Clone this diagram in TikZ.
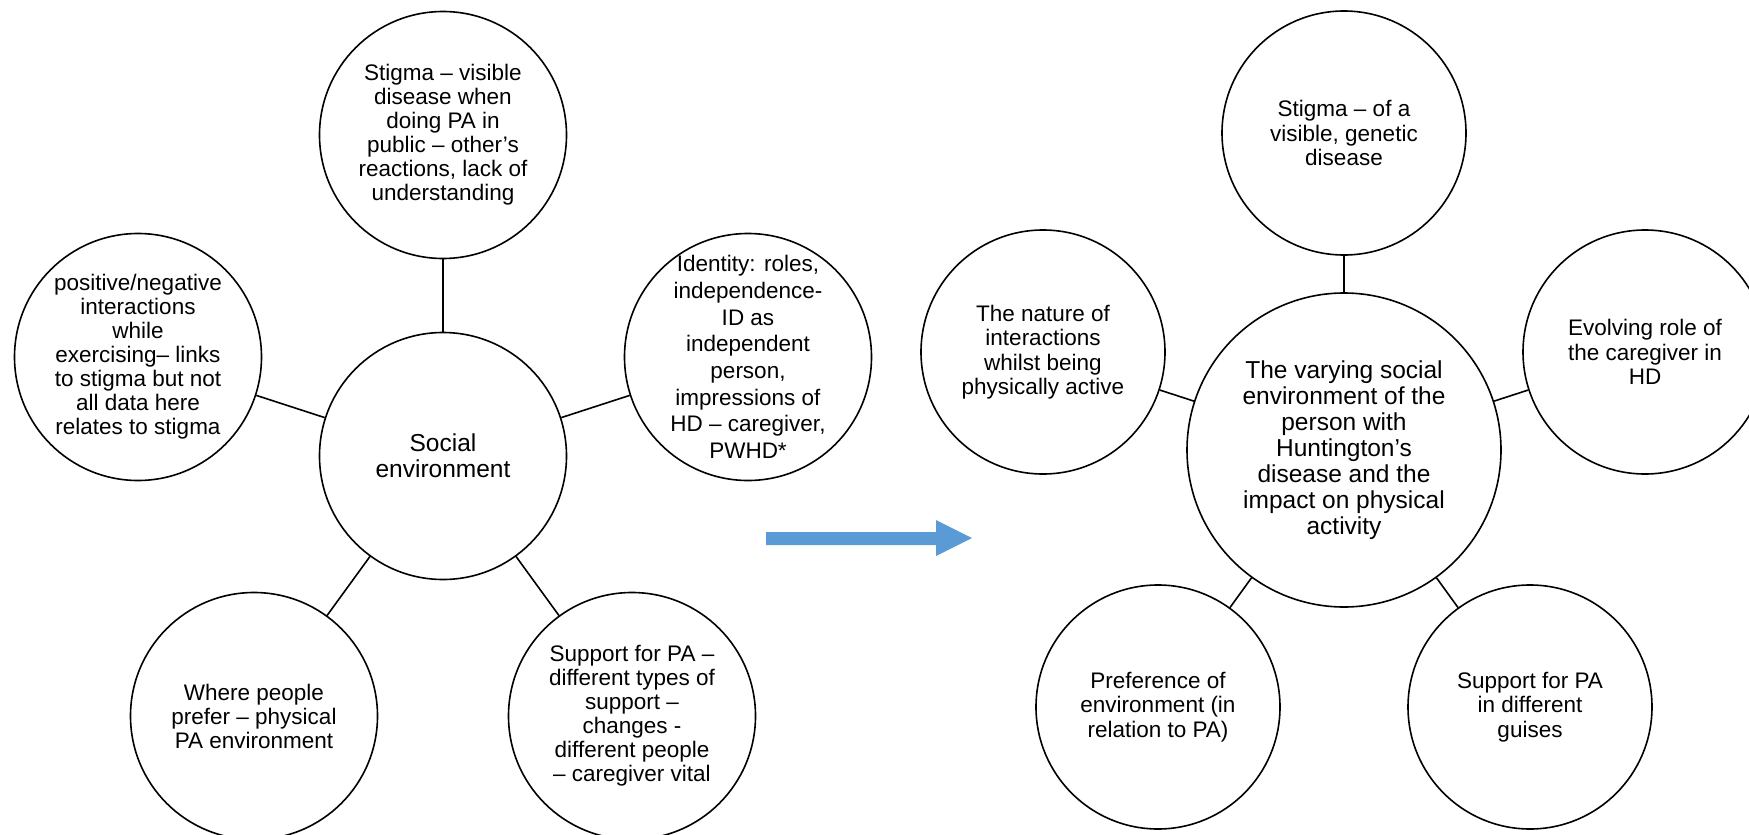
\documentclass[tikz,border=0pt]{standalone}
\usepackage{fontspec}
\setmainfont{Liberation Sans}
\definecolor{arrowblue}{HTML}{5B9BD5}
\begin{document}
\begin{tikzpicture}[x=1pt,y=-1pt,
  bubble/.style={circle, draw=black, line width=1.6pt, fill=white,
    inner sep=0pt, minimum size=247pt},
  bigbubble/.style={bubble, minimum size=314pt},
  rbubble/.style={bubble, minimum size=244pt},
  bubtext/.style={align=center, inner sep=0pt,
    font=\fontsize{22.5}{24}\selectfont},
  rtext/.style={bubtext, font=\fontsize{22.5}{24.5}\selectfont},
  widetext/.style={bubtext, font=\fontsize{22.5}{26.7}\selectfont},
  hubtext/.style={align=center, inner sep=0pt,
    font=\fontsize{24.5}{26}\selectfont},
  link/.style={draw=black, line width=1.6pt}]
\clip (0,0) rectangle (1749,835);
\fill[white] (0,0) rectangle (1749,835);

% ---- first map: social environment ----
\node[bubble, label={[hubtext]center:{Social\\environment}}] (lhub) at (443,456) {};
\node[bubble, label={[bubtext]center:{Stigma – visible\\disease when\\doing PA in\\public – other’s\\reactions, lack of\\understanding}}] (ltop) at (443,135) {};
\node[bubble, label={[bubtext]center:{positive/negative\\interactions\\while\\exercising– links\\to stigma but not\\all data here\\relates to stigma}}] (lleft) at (138,357) {};
\node[bubble, label={[widetext]center:{Identity: roles,\\independence-\\ID as\\independent\\person,\\impressions of\\HD – caregiver,\\PWHD*}}] (lright) at (748,357) {};
\node[bubble, label={[bubtext]center:{Where people\\prefer – physical\\PA environment}}] (lbl) at (254,716) {};
\node[bubble, label={[bubtext]center:{Support for PA –\\different types of\\support –\\changes -\\different people\\– caregiver vital}}] (lbr) at (632,716) {};

\draw[link] (lhub) -- (ltop);
\draw[link] (lhub) -- (lleft);
\draw[link] (lhub) -- (lright);
\draw[link] (lhub) -- (lbl);
\draw[link] (lhub) -- (lbr);

% ---- block arrow between the two maps ----
\fill[arrowblue] (766,532) -- (936,532) -- (936,520) -- (972,538)
  -- (936,556) -- (936,545) -- (766,545) -- cycle;

% ---- second map: refined themes ----
\node[bigbubble, label={[hubtext]center:{The varying social\\environment of the\\person with\\Huntington’s\\disease and the\\impact on physical\\activity}}] (rhub) at (1344,450) {};
\node[rbubble, label={[rtext]center:{Stigma – of a\\visible, genetic\\disease}}] (rtop) at (1344,133) {};
\node[rbubble, label={[rtext]center:{The nature of\\interactions\\whilst being\\physically active}}] (rleft) at (1043,352) {};
\node[rbubble, label={[rtext]center:{Evolving role of\\the caregiver in\\HD}}] (rright) at (1645,352) {};
\node[rbubble, label={[rtext]center:{Preference of\\environment (in\\relation to PA)}}] (rbl) at (1158,707) {};
\node[rbubble, label={[rtext]center:{Support for PA\\in different\\guises}}] (rbr) at (1530,707) {};

\draw[link] (rhub) -- (rtop);
\draw[link] (rhub) -- (rleft);
\draw[link] (rhub) -- (rright);
\draw[link] (rhub) -- (rbl);
\draw[link] (rhub) -- (rbr);
\end{tikzpicture}
\end{document}
